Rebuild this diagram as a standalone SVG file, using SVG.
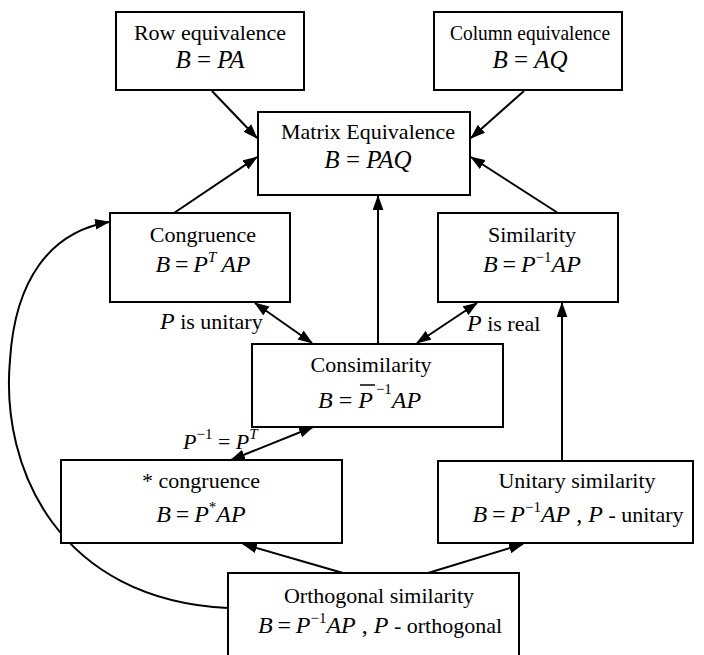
<svg xmlns="http://www.w3.org/2000/svg" width="704" height="655" viewBox="0 0 704 655">
<style>
.box{fill:#fff;stroke:#000;stroke-width:2}
.t{font-family:"Liberation Serif","Times New Roman",serif;font-size:22px;fill:#000;text-anchor:middle}
.f{font-family:"Liberation Serif","Times New Roman",serif;font-size:24px;fill:#000;text-anchor:middle}
.fb{font-size:25px}
.l{font-family:"Liberation Serif","Times New Roman",serif;font-size:22px;fill:#000}
.st{text-anchor:start}
.i{font-style:italic}
.s{font-size:15px}
.c{fill:none;stroke:#000;stroke-width:2}
</style>
<defs>
<marker id="ah" viewBox="0 0 14 10" refX="13" refY="5" markerUnits="userSpaceOnUse" markerWidth="15" markerHeight="11" orient="auto-start-reverse">
<path d="M0,0 L14,5 L0,10 z" fill="#000"/>
</marker>
</defs>
<rect width="704" height="655" fill="#fff"/>
<g id="connectors">
<line class="c" x1="212" y1="91" x2="257" y2="138" marker-end="url(#ah)"/>
<line class="c" x1="524" y1="91" x2="471" y2="138" marker-end="url(#ah)"/>
<line class="c" x1="174" y1="213" x2="257" y2="157" marker-end="url(#ah)"/>
<line class="c" x1="558" y1="213" x2="471" y2="157" marker-end="url(#ah)"/>
<line class="c" x1="378" y1="344" x2="378" y2="196" marker-end="url(#ah)"/>
<line class="c" x1="255" y1="303" x2="312" y2="343" marker-start="url(#ah)" marker-end="url(#ah)"/>
<line class="c" x1="477" y1="303" x2="417" y2="343" marker-start="url(#ah)" marker-end="url(#ah)"/>
<line class="c" x1="313" y1="427" x2="231" y2="460" marker-start="url(#ah)" marker-end="url(#ah)"/>
<line class="c" x1="562" y1="461" x2="562" y2="303" marker-end="url(#ah)"/>
<line class="c" x1="343" y1="573" x2="243" y2="544" marker-end="url(#ah)"/>
<line class="c" x1="428" y1="573" x2="523" y2="544" marker-end="url(#ah)"/>
<path class="c" d="M228,608 C60,600 0,470 10,360 C15,280 50,232 109,222" marker-end="url(#ah)"/>
</g>
<g id="row">
<rect class="box" x="116" y="12" width="188" height="78"/>
<text class="t" x="210" y="40">Row equivalence</text>
<text class="f fb" x="210" y="68"><tspan class="i">B</tspan> = <tspan class="i">PA</tspan></text>
</g>
<g id="column">
<rect class="box" x="434" y="12" width="188" height="78"/>
<text class="t" x="530" y="40" textLength="160" lengthAdjust="spacingAndGlyphs">Column equivalence</text>
<text class="f fb" x="530" y="68"><tspan class="i">B</tspan> = <tspan class="i">AQ</tspan></text>
</g>
<g id="matrix">
<rect class="box" x="258" y="112" width="212" height="83"/>
<text class="t" x="368" y="139">Matrix Equivalence</text>
<text class="f fb" x="368" y="168"><tspan class="i">B</tspan> = <tspan class="i">PAQ</tspan></text>
</g>
<g id="congruence">
<rect class="box" x="110" y="213" width="180" height="89"/>
<text class="t" x="203" y="242">Congruence</text>
<text class="f" x="203" y="272"><tspan class="i">B</tspan>&#8201;=&#8201;<tspan class="i">P</tspan><tspan class="i s" dy="-10">T</tspan><tspan class="i" dy="10">&#8201;AP</tspan></text>
</g>
<g id="similarity">
<rect class="box" x="438" y="213" width="180" height="89"/>
<text class="t" x="532" y="242">Similarity</text>
<text class="f" x="532" y="272"><tspan class="i">B</tspan>&#8201;=&#8201;<tspan class="i">P</tspan><tspan class="s" dy="-10">&#8722;1</tspan><tspan class="i" dy="10">AP</tspan></text>
</g>
<g id="consimilarity">
<rect class="box" x="252" y="344" width="251" height="83"/>
<text class="t" x="371" y="372">Consimilarity</text>
<text class="f st" x="318" y="408"><tspan class="i">B</tspan> = <tspan class="i">P</tspan><tspan class="s" dx="3" dy="-14">&#8722;1</tspan><tspan class="i" dy="14">AP</tspan></text>
<line x1="360" y1="385" x2="375" y2="385" stroke="#000" stroke-width="1.5"/>
</g>
<g id="starcongruence">
<rect class="box" x="61" y="460" width="281" height="83"/>
<text class="t" x="201" y="488">* congruence</text>
<text class="f" x="201" y="522"><tspan class="i">B</tspan>&#8201;=&#8201;<tspan class="i">P</tspan><tspan class="s" dy="-10">*</tspan><tspan class="i" dy="10">AP</tspan></text>
</g>
<g id="unitary">
<rect class="box" x="438" y="461" width="255" height="82"/>
<text class="t" x="577" y="488">Unitary similarity</text>
<text class="f" x="578" y="522"><tspan class="i">B</tspan>&#8201;=&#8201;<tspan class="i">P</tspan><tspan class="s" dy="-10">&#8722;1</tspan><tspan class="i" dy="10">AP</tspan> ,  <tspan class="i">P</tspan><tspan font-size="22"> - unitary</tspan></text>
</g>
<g id="orthogonal">
<rect class="box" x="228" y="573" width="291" height="90"/>
<text class="t" x="379" y="603">Orthogonal similarity</text>
<text class="f" x="380" y="633"><tspan class="i">B</tspan>&#8201;=&#8201;<tspan class="i">P</tspan><tspan class="s" dy="-10">&#8722;1</tspan><tspan class="i" dy="10">AP</tspan> ,  <tspan class="i">P</tspan><tspan font-size="22"> - orthogonal</tspan></text>
</g>
<g id="labels">
<text class="l" x="160" y="329"><tspan class="i" font-size="24">P</tspan> is unitary</text>
<text class="l" x="467" y="331"><tspan class="i" font-size="24">P</tspan> is real</text>
<text class="l" x="183" y="449" font-size="24"><tspan class="i">P</tspan><tspan class="s" dy="-10">&#8722;1</tspan><tspan dy="10"> = </tspan><tspan class="i">P</tspan><tspan class="i s" dy="-10">T</tspan></text>
</g>
</svg>
